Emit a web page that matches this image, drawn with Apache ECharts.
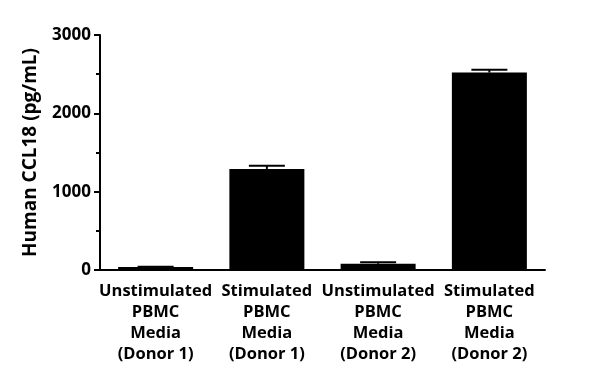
<!DOCTYPE html>
<html>
<head>
<meta charset="utf-8">
<script src="https://cdn.jsdelivr.net/npm/echarts@6/dist/echarts.min.js"></script>
<style>html,body{margin:0;padding:0;background:#fff}#c{width:600px;height:383px}</style>
</head>
<body>
<div id="c"></div>
<script>
const categories = [
  'Unstimulated\nPBMC\nMedia\n(Donor 1)',
  'Stimulated\nPBMC\nMedia\n(Donor 1)',
  'Unstimulated\nPBMC\nMedia\n(Donor 2)',
  'Stimulated\nPBMC\nMedia\n(Donor 2)'
];
const means = [38, 1290, 80, 2520];
const errors = [3, 40, 20, 35];
const yTicks = [0, 1000, 2000, 3000];
const yTitle = 'Human CCL18 (pg/mL)';

const FONT = '"Open Sans", "DejaVu Sans", sans-serif';
const chart = echarts.init(document.getElementById('c'), null, {renderer: 'canvas'});
chart.setOption({
  animation: false,
  backgroundColor: '#fff',
  grid: {left: 100, right: 55, top: 35, bottom: 113},
  xAxis: {
    type: 'category',
    data: categories,
    axisLine: {lineStyle: {color: '#000', width: 2}},
    axisTick: {alignWithLabel: true, length: 6, lineStyle: {color: '#000', width: 2}},
    axisLabel: {color: '#000', fontFamily: FONT, fontWeight: 'bold', fontSize: 16.5, lineHeight: 21, margin: 11, interval: 0}
  },
  yAxis: {
    type: 'value',
    min: yTicks[0], max: yTicks[yTicks.length - 1], interval: 1000,
    name: yTitle,
    nameLocation: 'middle',
    nameGap: 60,
    nameTextStyle: {color: '#000', fontFamily: FONT, fontWeight: 'bold', fontSize: 19},
    axisLine: {show: true, lineStyle: {color: '#000', width: 2}},
    axisTick: {show: true, length: 6, lineStyle: {color: '#000', width: 2}},
    minorTick: {show: true, splitNumber: 2, length: 4, lineStyle: {color: '#000', width: 2}},
    splitLine: {show: false},
    axisLabel: {color: '#000', fontFamily: FONT, fontWeight: 'bold', fontSize: 17, margin: 9,
      formatter: v => String(v)}
  },
  series: [
    {
      type: 'bar',
      data: means,
      barWidth: 75,
      itemStyle: {color: '#000'}
    },
    {
      type: 'custom',
      data: means.map((m, i) => [i, m, m + errors[i]]),
      renderItem: function (params, api) {
        const x = api.value(0);
        const lo = api.coord([x, api.value(1)]);
        const hi = api.coord([x, api.value(2)]);
        const hw = 18;
        return {
          type: 'group',
          children: [
            {type: 'line', shape: {x1: lo[0], y1: lo[1], x2: hi[0], y2: hi[1]}, style: {stroke: '#000', lineWidth: 2}},
            {type: 'line', shape: {x1: hi[0] - hw, y1: hi[1], x2: hi[0] + hw, y2: hi[1]}, style: {stroke: '#000', lineWidth: 2}}
          ]
        };
      },
      z: 3
    }
  ]
});
</script>
</body>
</html>
